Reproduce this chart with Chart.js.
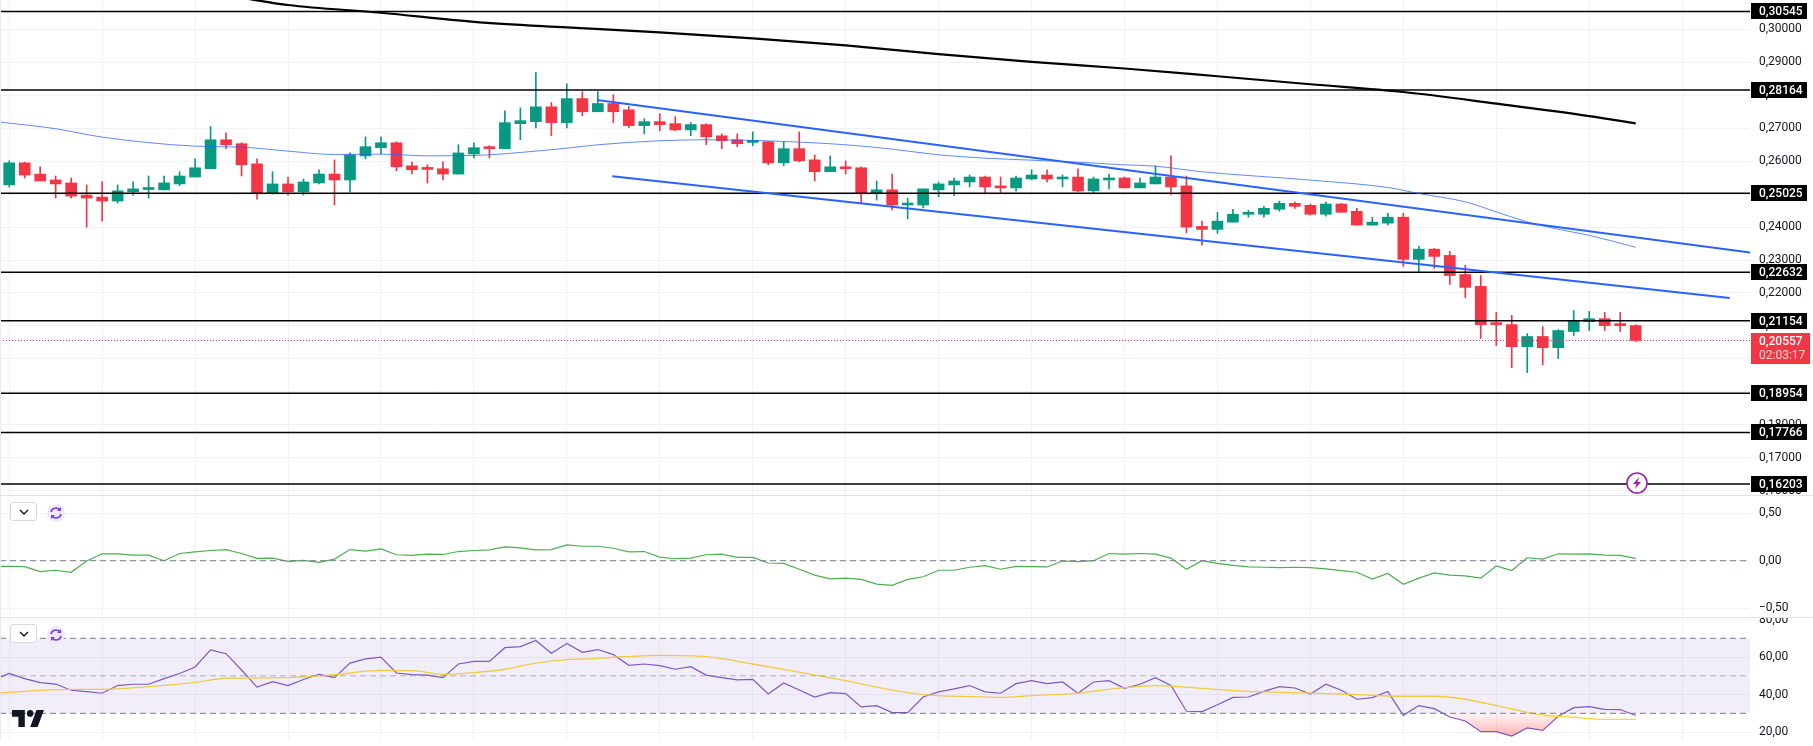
<!DOCTYPE html>
<html>
<head>
<meta charset="utf-8">
<title>Price chart</title>
<script src="https://cdn.jsdelivr.net/npm/chart.js@4/dist/chart.umd.js"></script>
<style>
  html, body { margin: 0; padding: 0; background: #fff; overflow: hidden; }
  #stage { position: relative; width: 1813px; height: 746px; }
  canvas { position: absolute; left: 0; }
  .sep { position: absolute; left: 0; width: 1813px; height: 1px; background: #e0e3eb; }
  .edge { position: absolute; left: 0; top: 0; width: 1px; height: 740px; background: #e9ebf0; }
  .toggle { position: absolute; left: 10px; width: 27px; height: 19px; box-sizing: border-box; background: #fff; border: 1px solid #d6d8de; border-radius: 3px; }
  .toggle svg { position: absolute; left: 7px; top: 5px; }
  .reload { position: absolute; left: 46px; }
  .logo { position: absolute; left: 12px; top: 710px; }
  .flash { position: absolute; left: 1626px; top: 472px; }
</style>
</head>
<body>
<div id="stage">
  <canvas id="priceChart" width="1813" height="495" style="top:0"></canvas>
  <canvas id="macdChart" width="1813" height="121" style="top:496px"></canvas>
  <canvas id="rsiChart" width="1813" height="122" style="top:618px"></canvas>
  <div class="sep" style="top:495px"></div>
  <div class="sep" style="top:617px"></div>
  <div class="edge"></div>
  <div class="toggle" style="top:502px"><svg width="12" height="8" viewBox="0 0 12 8"><path d="M2 2l4 4 4-4" fill="none" stroke="#131722" stroke-width="1.4"/></svg></div>
  <div class="toggle" style="top:624px"><svg width="12" height="8" viewBox="0 0 12 8"><path d="M2 2l4 4 4-4" fill="none" stroke="#131722" stroke-width="1.4"/></svg></div>
  <svg class="reload" style="top:504px" width="20" height="18" viewBox="0 0 20 18"><ellipse cx="10" cy="9" rx="9" ry="9" fill="#efe9ff"/><path d="M5 8a5 4.6 0 0 1 9-2M15 10a5 4.6 0 0 1-9 2" fill="none" stroke="#7c3aed" stroke-width="1.6"/><path d="M15 3v4h-4M5 15v-4h4" fill="#7c3aed"/></svg>
  <svg class="reload" style="top:626px" width="20" height="18" viewBox="0 0 20 18"><ellipse cx="10" cy="9" rx="9" ry="9" fill="#efe9ff"/><path d="M5 8a5 4.6 0 0 1 9-2M15 10a5 4.6 0 0 1-9 2" fill="none" stroke="#7c3aed" stroke-width="1.6"/><path d="M15 3v4h-4M5 15v-4h4" fill="#7c3aed"/></svg>
  <svg class="logo" width="32" height="17" viewBox="2 6 30 15" preserveAspectRatio="none"><path d="M14 6H2v6h6v9h6V6zm12 15h-7l6-15h7l-6 15zm-7-9a3 3 0 1 0 0-6 3 3 0 0 0 0 6z" fill="#131722"/></svg>
  <svg class="flash" width="22" height="22" viewBox="0 0 22 22"><circle cx="11" cy="11" r="10" fill="#fff" stroke="#9c27b0" stroke-width="1.6"/><path d="M13 5l-6 7h3.5l-1.5 5 6-7h-3.5z" fill="#9c27b0"/></svg>
</div>
<script>
  // candles
  const opens = [
    0.2528, 0.2595, 0.2561, 0.2543, 0.2534, 0.2497, 0.2491, 0.2479, 0.2507, 0.2514,
    0.2513, 0.2531, 0.2552, 0.2577, 0.2665, 0.2653, 0.2592, 0.2503, 0.2531, 0.2507,
    0.2534, 0.2561, 0.2543, 0.2616, 0.2641, 0.2656, 0.2586, 0.2577, 0.2577, 0.2561,
    0.2622, 0.2641, 0.2638, 0.2714, 0.2720, 0.2765, 0.2717, 0.2790, 0.2750, 0.2775,
    0.2756, 0.2708, 0.2720, 0.2714, 0.2695, 0.2711, 0.2677, 0.2665, 0.2657, 0.2659,
    0.2595, 0.2638, 0.2604, 0.2568, 0.2583, 0.2580, 0.2504, 0.2513, 0.2467, 0.2467,
    0.2513, 0.2528, 0.2537, 0.2552, 0.2525, 0.2519, 0.2546, 0.2558, 0.2546, 0.2552,
    0.2510, 0.2543, 0.2549, 0.2519, 0.2531, 0.2552, 0.2525, 0.2402, 0.2393, 0.2415,
    0.2439, 0.2439, 0.2454, 0.2472, 0.2466, 0.2439, 0.2470, 0.2448, 0.2406, 0.2412,
    0.2430, 0.2302, 0.2333, 0.2314, 0.2256, 0.2220, 0.2107, 0.2104, 0.2037, 0.2068,
    0.2034, 0.2083, 0.2113, 0.2122, 0.2104, 0.2101
  ];
  const closes = [
    0.2595, 0.2558, 0.2540, 0.2531, 0.2494, 0.2488, 0.2479, 0.2510, 0.2516, 0.2516,
    0.2534, 0.2555, 0.2580, 0.2665, 0.2650, 0.2589, 0.2503, 0.2531, 0.2507, 0.2537,
    0.2561, 0.2543, 0.2619, 0.2644, 0.2656, 0.2583, 0.2574, 0.2575, 0.2561, 0.2625,
    0.2641, 0.2638, 0.2717, 0.2723, 0.2765, 0.2717, 0.2790, 0.2750, 0.2775, 0.2750,
    0.2708, 0.2720, 0.2711, 0.2695, 0.2711, 0.2674, 0.2662, 0.2653, 0.2659, 0.2595,
    0.2638, 0.2601, 0.2568, 0.2583, 0.2577, 0.2504, 0.2513, 0.2467, 0.2470, 0.2516,
    0.2531, 0.2540, 0.2552, 0.2522, 0.2519, 0.2549, 0.2558, 0.2546, 0.2552, 0.2510,
    0.2546, 0.2549, 0.2519, 0.2534, 0.2552, 0.2522, 0.2400, 0.2393, 0.2418, 0.2439,
    0.2442, 0.2457, 0.2472, 0.2463, 0.2439, 0.2470, 0.2445, 0.2406, 0.2415, 0.2430,
    0.2302, 0.2333, 0.2311, 0.2253, 0.2217, 0.2104, 0.2104, 0.2037, 0.2068, 0.2034,
    0.2086, 0.2116, 0.2122, 0.2101, 0.2101, 0.2056
  ];
  const highs = [
    0.2601, 0.2597, 0.2583, 0.2555, 0.2549, 0.2528, 0.2537, 0.2528, 0.2537, 0.2555,
    0.2555, 0.2568, 0.2607, 0.2705, 0.2686, 0.2656, 0.2607, 0.2568, 0.2552, 0.2546,
    0.2574, 0.2604, 0.2625, 0.2674, 0.2674, 0.2659, 0.2598, 0.2589, 0.2598, 0.2650,
    0.2656, 0.2647, 0.2753, 0.2762, 0.2869, 0.2778, 0.2835, 0.2811, 0.2811, 0.2802,
    0.2766, 0.2729, 0.2744, 0.2735, 0.2717, 0.2714, 0.2683, 0.2683, 0.2689, 0.2659,
    0.2659, 0.2689, 0.2619, 0.2616, 0.2601, 0.2583, 0.2540, 0.2561, 0.2488, 0.2516,
    0.2537, 0.2549, 0.2558, 0.2555, 0.2552, 0.2555, 0.2574, 0.2574, 0.2558, 0.2577,
    0.2552, 0.2561, 0.2552, 0.2549, 0.2586, 0.2616, 0.2555, 0.2418, 0.2445, 0.2454,
    0.2451, 0.2463, 0.2479, 0.2476, 0.2470, 0.2476, 0.2472, 0.2457, 0.2430, 0.2442,
    0.2442, 0.2342, 0.2336, 0.2326, 0.2284, 0.2253, 0.2141, 0.2132, 0.2077, 0.2098,
    0.2089, 0.2147, 0.2144, 0.2141, 0.2141, 0.2104
  ];
  const lows = [
    0.2522, 0.2549, 0.2540, 0.2488, 0.2488, 0.2400, 0.2418, 0.2473, 0.2497, 0.2488,
    0.2513, 0.2525, 0.2552, 0.2577, 0.2638, 0.2555, 0.2485, 0.2500, 0.2497, 0.2497,
    0.2531, 0.2467, 0.2507, 0.2607, 0.2622, 0.2571, 0.2561, 0.2534, 0.2543, 0.2561,
    0.2610, 0.2610, 0.2638, 0.2665, 0.2701, 0.2677, 0.2701, 0.2738, 0.2750, 0.2717,
    0.2702, 0.2683, 0.2692, 0.2692, 0.2677, 0.2650, 0.2638, 0.2644, 0.2647, 0.2589,
    0.2586, 0.2598, 0.2540, 0.2568, 0.2561, 0.2473, 0.2482, 0.2452, 0.2425, 0.2458,
    0.2492, 0.2495, 0.2522, 0.2501, 0.2504, 0.2510, 0.2543, 0.2537, 0.2522, 0.2507,
    0.2501, 0.2516, 0.2519, 0.2519, 0.2531, 0.2498, 0.2382, 0.2345, 0.2381, 0.2415,
    0.2430, 0.2430, 0.2448, 0.2457, 0.2436, 0.2433, 0.2445, 0.2406, 0.2406, 0.2406,
    0.2281, 0.2265, 0.2275, 0.2226, 0.2186, 0.2062, 0.2040, 0.1973, 0.1958, 0.1982,
    0.2001, 0.2071, 0.2086, 0.2086, 0.2083, 0.2052
  ];

  // horizontal levels drawn on the price pane
  const levels = [0.30545, 0.28164, 0.25025, 0.22632, 0.21154, 0.18954, 0.17766, 0.16203];
  const lastPrice = 0.20557;
  const countdown = '02:03:17';

  // moving averages, read at a few candles
  const slowMaIndex = [15, 18, 24, 30, 36, 42, 48, 54, 60, 66, 72, 78, 84, 90, 96, 102, 105];
  const slowMaValues = [0.3096, 0.3074, 0.30505, 0.30231, 0.30061, 0.29909, 0.29726, 0.29513, 0.29248, 0.29014, 0.28813, 0.28578, 0.28335, 0.281, 0.27747, 0.2737, 0.27148];
  const fastMaIndex = [-1, 3, 6, 12, 15, 18, 21, 24, 27, 30, 33, 36, 38, 42, 45, 48, 51, 54, 57, 60, 63, 66, 69, 72, 74, 77, 84, 89, 91, 94, 96, 98, 100, 102, 105];
  const fastMaValues = [0.27208, 0.26985, 0.26731, 0.26457, 0.26427, 0.26305, 0.26203, 0.26213, 0.26163, 0.26173, 0.26264, 0.26396, 0.26498, 0.2662, 0.2665, 0.2663, 0.26579, 0.26498, 0.26366, 0.26193, 0.26092, 0.26031, 0.2597, 0.25889, 0.25848, 0.25679, 0.25426, 0.25202, 0.2502, 0.24766, 0.24462, 0.24157, 0.23934, 0.23751, 0.23386];

  // channel trend lines, start and end
  const upperTrendIndex = [37.95, 112.4];
  const upperTrendValues = [0.27857, 0.2323];
  const lowerTrendIndex = [38.93, 111.07];
  const lowerTrendValues = [0.25543, 0.2185];

  // lower panes, first value sits just left of candle 0
  const macdValues = [
    -0.06, -0.059, -0.063, -0.115, -0.101, -0.122, -0.003, 0.073, 0.073, 0.059, 0.059,
    0, 0.076, 0.094, 0.108, 0.118, 0.076, 0.024, 0.028, -0.007, 0.003,
    -0.017, 0.017, 0.118, 0.101, 0.125, 0.063, 0.056, 0.069, 0.066, 0.097,
    0.108, 0.115, 0.146, 0.135, 0.115, 0.118, 0.167, 0.153, 0.153,
    0.132, 0.094, 0.097, 0.038, 0.021, 0.028, 0.063, 0.069, 0.035, 0.035,
    -0.024, -0.028, -0.09, -0.153, -0.191, -0.184, -0.198, -0.247, -0.26, -0.198,
    -0.17, -0.101, -0.101, -0.069, -0.052, -0.09, -0.059, -0.063, -0.066, -0.003,
    -0.01, 0, 0.076, 0.069, 0.076, 0.069, 0.028, -0.09,
    0, -0.028, -0.049, -0.066, -0.069, -0.073, -0.069, -0.073, -0.087, -0.104,
    -0.122, -0.194, -0.135, -0.25, -0.184, -0.128, -0.153, -0.16, -0.184, -0.056,
    -0.104, 0.031, 0.017, 0.073, 0.069, 0.073, 0.059, 0.056, 0.024
  ];
  const rsiValues = [
    47.8, 51.3, 48.5, 46.4, 45.6, 42.3, 41.6, 40.7, 44.8, 45.5,
    45.5, 48.5, 51.2, 54.7, 63.8, 61.8, 53.1, 44.0, 46.9, 44.8,
    48.0, 50.8, 49.0, 56.8, 59.0, 60.0, 51.5, 50.6, 50.4, 49.0,
    56.3, 57.7, 57.7, 65.0, 65.6, 68.8, 62.0, 67.2, 62.5, 64.0,
    61.3, 55.6, 56.3, 55.4, 53.5, 54.9, 50.4, 49.0, 47.8, 48.1,
    40.3, 46.2, 42.4, 38.7, 41.0, 40.5, 33.4, 34.1, 30.4, 30.4,
    38.7, 41.4, 43.0, 44.8, 41.4, 40.7, 45.8, 47.4, 45.8, 46.7,
    40.7, 46.7, 47.4, 43.3, 45.5, 49.0, 44.8, 31.1,
    30.9, 34.6, 38.5, 38.7, 41.7, 44.2, 43.5, 40.3, 45.5, 42.3,
    37.5, 38.4, 41.6, 28.9, 34.1, 32.5, 28.0, 25.9, 20.2, 20.2,
    17.9, 22.2, 20.9, 28.4, 33.0, 33.6, 32.1, 32.0, 28.8
  ];
  const rsiMaIndex = [-1, 4, 6, 9, 12, 14, 18, 21, 24, 26, 28, 30, 32, 34, 36, 38, 39, 42, 45, 48, 51, 54, 57, 59, 62, 64, 66, 69, 71, 74, 76, 77, 80, 82, 84, 87, 90, 92, 94, 97, 99, 101, 103, 105];
  const rsiMaValues = [40.7, 42.8, 42.8, 44.2, 46.5, 48.7, 49.0, 50.6, 52.9, 52.8, 50.8, 51.7, 53.5, 56.8, 58.6, 59.3, 59.9, 60.9, 60.2, 56.3, 52.0, 47.4, 42.4, 40.0, 38.9, 38.5, 39.4, 40.8, 42.8, 44.8, 43.9, 43.3, 41.7, 41.2, 40.8, 40.0, 39.1, 39.1, 37.5, 32.3, 29.1, 27.9, 26.8, 26.8];

  // x range of all three panes, in candles
  const xMin = -0.594;
  const xMax = 112.38;
  const upColor = '#089981';
  const downColor = '#f23645';
  const gridColor = '#f0f2f6';
  const tickFont = { family: 'Roboto', size: 12 };
  const comma = (value, digits) => value.toFixed(digits).replace('.', ',').replace('-', '\u2212');

  const toPoints = (index, values) => index.map((x, i) => ({ x, y: values[i] }));
  const flatLine = (value) => [{ x: xMin, y: value }, { x: xMax, y: value }];

  function line(data, color, width, extra) {
    return Object.assign({ type: 'line', data, borderColor: color, borderWidth: width, fill: false }, extra);
  }

  function paneOptions(yMin, yMax, step, digits) {
    return {
      responsive: false,
      animation: false,
      events: [],
      layout: { padding: 0 },
      elements: { point: { radius: 0 }, line: { tension: 0 } },
      plugins: { legend: { display: false }, tooltip: { enabled: false } },
      scales: {
        x: {
          type: 'linear',
          min: xMin,
          max: xMax,
          offset: false,
          border: { display: false },
          grid: { color: gridColor, drawTicks: false, offset: false },
          ticks: { display: false, stepSize: 6, includeBounds: false },
          afterFit: (scale) => { scale.height = 0; },
        },
        y: {
          position: 'right',
          min: yMin,
          max: yMax,
          border: { display: false },
          grid: { color: gridColor, drawTicks: false },
          ticks: {
            stepSize: step,
            includeBounds: false,
            padding: 9,
            color: '#131722',
            font: tickFont,
            callback: (value) => comma(value, digits),
          },
          afterFit: (scale) => {
            scale.width = 63;
            scale.paddingTop = 0;
            scale.paddingBottom = 0;
          },
        },
      },
    };
  }

  // black and red price tags on the right axis
  const priceTags = {
    id: 'priceTags',
    afterDraw(chart) {
      const { ctx, scales } = chart;
      const left = chart.chartArea.right + 1;
      ctx.save();
      ctx.textAlign = 'left';
      ctx.textBaseline = 'middle';
      levels.forEach((level) => {
        const y = Math.round(scales.y.getPixelForValue(level));
        ctx.fillStyle = '#000';
        ctx.fillRect(left, y - 8, 56, 16);
        ctx.fillStyle = '#fff';
        ctx.font = '500 12px Roboto';
        ctx.fillText(comma(level, 5), left + 8, y + 0.5);
      });
      const y = Math.round(scales.y.getPixelForValue(lastPrice));
      ctx.fillStyle = downColor;
      ctx.fillRect(left, y - 8, 59, 31);
      ctx.fillStyle = '#fff';
      ctx.font = '500 12px Roboto';
      ctx.fillText(comma(lastPrice, 5), left + 8, y + 0.5);
      ctx.fillStyle = 'rgba(255,255,255,0.78)';
      ctx.font = '12px Roboto';
      ctx.fillText(countdown, left + 8, y + 15);
      ctx.restore();
    },
  };

  const wicks = opens.map((_, i) => ({ x: i, y: [lows[i], highs[i]] }));
  const bodies = opens.map((open, i) => ({ x: i, y: [open, closes[i]] }));
  const candleColors = opens.map((open, i) => (closes[i] >= open ? upColor : downColor));

  new Chart(document.getElementById('priceChart'), {
    data: {
      datasets: [
        { type: 'bar', data: wicks, backgroundColor: candleColors, barThickness: 1, grouped: false, order: 10 },
        { type: 'bar', data: bodies, backgroundColor: candleColors, barThickness: 11, minBarLength: 2, grouped: false, order: 9 },
        ...levels.map((level) => line(flatLine(level), '#000', 1.5, { order: 5 })),
        line(flatLine(lastPrice), downColor, 1, { borderDash: [1, 2], order: 6 }),
        line(toPoints(slowMaIndex, slowMaValues), '#000', 2.2, { cubicInterpolationMode: 'monotone', order: 4 }),
        line(toPoints(fastMaIndex, fastMaValues), 'rgba(41,98,255,0.75)', 1, { cubicInterpolationMode: 'monotone', order: 3 }),
        line(toPoints(upperTrendIndex, upperTrendValues), '#2962ff', 2, { order: 2 }),
        line(toPoints(lowerTrendIndex, lowerTrendValues), '#2962ff', 2, { order: 2 }),
      ],
    },
    options: paneOptions(0.15869, 0.30892, 0.01, 5),
    plugins: [priceTags],
  });

  new Chart(document.getElementById('macdChart'), {
    data: {
      datasets: [
        line(flatLine(0), '#787b86', 1, { borderDash: [6, 4] }),
        line(macdValues.map((y, i) => ({ x: i - 1, y })), '#4caf50', 1.2),
      ],
    },
    options: paneOptions(-0.595, 0.684, 0.5, 2),
  });

  const rsiCanvas = document.getElementById('rsiChart');
  const oversold = rsiCanvas.getContext('2d').createLinearGradient(0, 95, 0, 122);
  oversold.addColorStop(0, 'rgba(255,82,82,0.05)');
  oversold.addColorStop(1, 'rgba(255,82,82,0.5)');

  new Chart(rsiCanvas, {
    data: {
      datasets: [
        line(flatLine(70), '#787b86', 1, { borderDash: [6, 4] }),
        line(flatLine(50), 'rgba(120,123,134,0.55)', 1, { borderDash: [6, 4] }),
        line(flatLine(30), '#787b86', 1, {
          borderDash: [6, 4],
          fill: { target: { value: 70 }, above: 'rgba(0,0,0,0)', below: 'rgba(126,87,194,0.1)' },
        }),
        line(toPoints(rsiMaIndex, rsiMaValues), '#fdd835', 1.3, { cubicInterpolationMode: 'monotone' }),
        line(rsiValues.map((y, i) => ({ x: i - 1, y })), '#7e57c2', 1.2, {
          fill: { target: { value: 30 }, above: 'rgba(0,0,0,0)', below: oversold },
        }),
      ],
    },
    options: paneOptions(15.76, 80.83, 20, 2),
  });
</script>
</body>
</html>
